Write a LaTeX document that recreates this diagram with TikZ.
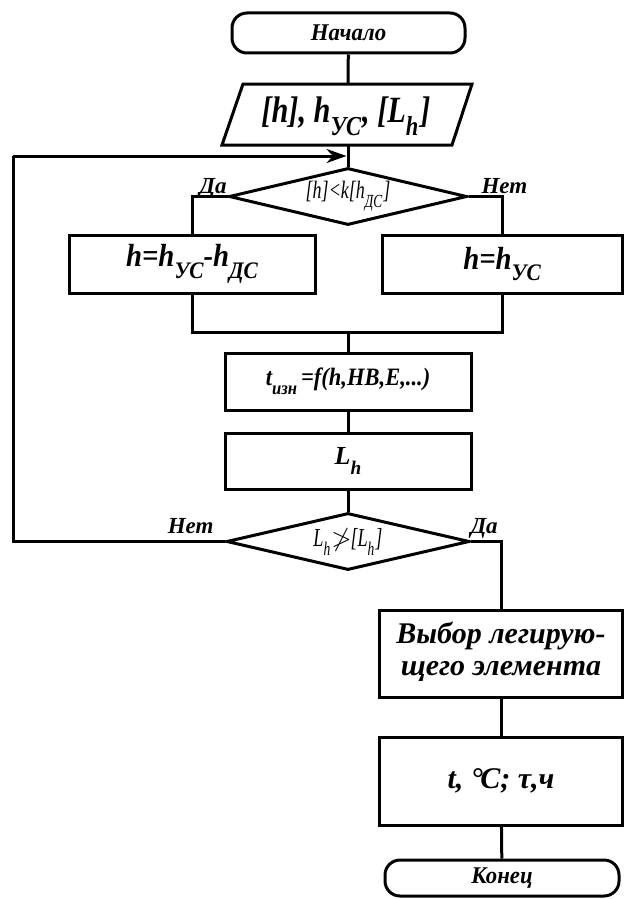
\documentclass[tikz,border=0pt]{standalone}
\usepackage{fontspec}
\setmainfont{Liberation Serif}
\usepackage{amssymb}
\usepackage{graphicx}
\usetikzlibrary{shapes.geometric,arrows.meta}
\newcommand\sbs[1]{\raisebox{-0.36em}{\scalebox{0.74}{#1}}}
\newcommand\fz[1]{\fontsize{#1}{#1}\selectfont}
\begin{document}
\begin{tikzpicture}[x=1pt,y=-1pt,line width=3pt,
  box/.style={draw,rectangle,inner sep=0pt,line width=3pt,align=center},
  term/.style={draw,rectangle,rounded corners=15pt,inner sep=0pt,line width=3pt},
  dec/.style={draw,diamond,shape aspect=4.2,inner sep=0pt,line width=3pt},
  lab/.style={inner sep=0pt,font=\fz{23}\bfseries\itshape},
  tip/.style={-{Stealth[length=20pt,width=14pt]}}]
\useasboundingbox (0,0) rectangle (624,899);
% start
\node[term,minimum width=233,minimum height=40] (start) at (348.5,33)
  {\fz{24}\bfseries\itshape\addfontfeature{FakeStretch=0.95}Начало};
% input parallelogram
\coordinate (pt) at (348,84);
\coordinate (pb) at (348,145);
\draw[line join=miter] (243,84) -- (472,84) -- (452,145) -- (222,145) -- cycle;
\node[inner sep=0pt] (io) at (346,116)
  {\fz{37}\bfseries\itshape\addfontfeature{FakeStretch=0.82}[h], h\sbs{УС}\kern1pt, [L\sbs{h}\kern2pt]};
% decision 1
\node[dec,minimum width=238,minimum height=57] (d1) at (348,196.5)
  {\raisebox{-2pt}{\fz{25}\itshape\addfontfeature{FakeStretch=0.72}[h]<k[h\sbs{ДС}\kern1pt]}};
\node[lab,anchor=base east] (da1) at (228,193) {Да};
\node[lab,anchor=base west] (net1) at (480,193) {Нет};
% two branches
\node[box,minimum width=246,minimum height=58] (lbox) at (192,264)
  {\fz{32}\bfseries\itshape\addfontfeature{FakeStretch=0.9}h=h\sbs{УС}-h\sbs{ДС}};
\node[box,minimum width=240,minimum height=58] (rbox) at (502,264)
  {\fz{32}\bfseries\itshape\addfontfeature{FakeStretch=0.9}h=h\sbs{УС}};
\coordinate (mc) at (348,332);
% process
\node[box,minimum width=246,minimum height=57] (tbox) at (348,381.5)
  {\fz{25}\bfseries\itshape\addfontfeature{FakeStretch=0.9}t\sbs{изн}\,=f(h,HB,E,...)};
\node[box,minimum width=246,minimum height=56] (lh) at (348,461)
  {\fz{26}\bfseries\itshape L\sbs{h}};
% decision 2
\node[dec,minimum width=243,minimum height=57] (d2) at (348,541.5)
  {\fz{26}\itshape\addfontfeature{FakeStretch=0.7}L\sbs{h}\kern1pt$\ngtr$\kern-1pt[L\sbs{h}\kern1pt]};
\node[lab,anchor=base east] (net2) at (215,533) {Нет};
\node[lab,anchor=base west] (da2) at (469,533) {Да};
% right column
\node[box,minimum width=243,minimum height=87] (sel) at (501,653.5)
  {\fz{30}\bfseries\itshape\begin{tabular}{@{}c@{}}Выбор легирую-\\[2pt]щего элемента\end{tabular}};
\node[box,minimum width=243,minimum height=88] (temp) at (501,781)
  {\fz{30}\bfseries\itshape t, °\kern-0.08em C; τ,ч};
\node[term,minimum width=234,minimum height=36] (end) at (502,878)
  {\raisebox{-3pt}{\fz{24}\bfseries\itshape\addfontfeature{FakeStretch=0.95}Конец}};
% connectors
\coordinate (lc) at (13,156);
\coordinate (loopin) at (346.5,156);
\draw (start) -- (pt);
\draw (pb) -- (d1.north);
\draw (d2.west) -| (lc);
\draw[tip] (lc) -- (loopin);
\draw (d1.west) -| (lbox.north);
\draw (d1.east) -| (rbox.north);
\draw (lbox.south) |- (mc) -| (rbox.south);
\draw (mc) -- (tbox.north);
\draw (tbox) -- (lh);
\draw (lh) -- (d2);
\draw (d2.east) -| (sel.north);
\draw (sel) -- (temp);
\draw (temp) -- (end);
\end{tikzpicture}
\end{document}
